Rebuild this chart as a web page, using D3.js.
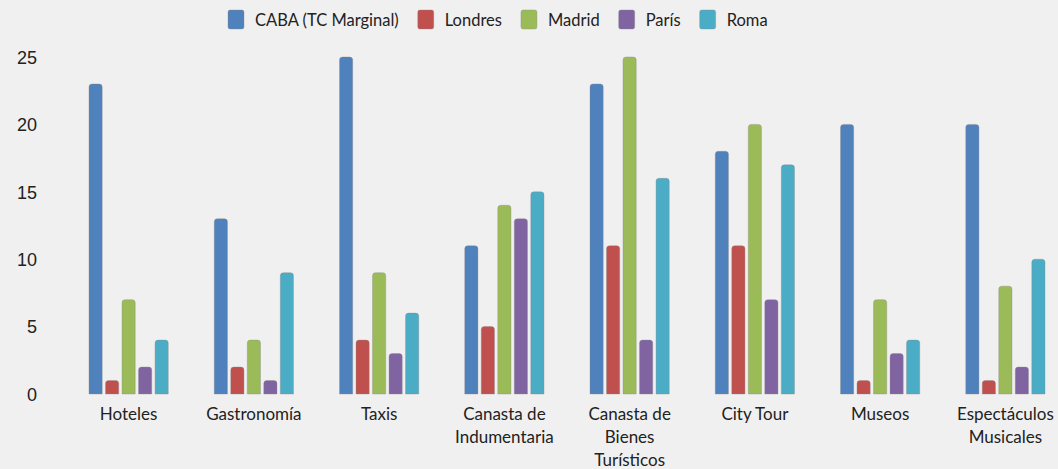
<!DOCTYPE html>
<html lang="es">
<head>
<meta charset="UTF-8">
<title>Comparación de precios</title>
<style>
  html, body { margin: 0; padding: 0; background: #f0f0f0; }
  svg { display: block; font-family: Lato, "Open Sans", Arial, sans-serif; }
  .tick text { fill: #222; font-size: 18px; }
</style>
</head>
<body>
<svg id="chart" width="1058" height="469"></svg>
<script src="https://d3js.org/d3.v7.min.js"></script>
<script>
// datos
const categories = [
  ["Hoteles"],
  ["Gastronomía"],
  ["Taxis"],
  ["Canasta de", "Indumentaria"],
  ["Canasta de", "Bienes", "Turísticos"],
  ["City Tour"],
  ["Museos"],
  ["Espectáculos", "Musicales"]
];
const seriesNames = ["CABA (TC Marginal)", "Londres", "Madrid", "París", "Roma"];
const colors = ["#4f81bd", "#c0504d", "#9bbb59", "#8064a2", "#4bacc6"];
const caba    = [23, 13, 25, 11, 23, 18, 20, 20];
const londres = [1, 2, 4, 5, 11, 11, 1, 1];
const madrid  = [7, 4, 9, 14, 25, 20, 7, 8];
const paris   = [2, 1, 3, 13, 4, 7, 3, 2];
const roma    = [4, 9, 6, 15, 16, 17, 4, 10];
const yTicks = [0, 5, 10, 15, 20, 25];

const allSeries = [caba, londres, madrid, paris, roma];

const svg = d3.select("#chart");
const margin = { left: 66, right: -10, top: 57, bottom: 75 };
const W = +svg.attr("width"), H = +svg.attr("height");

const keys = categories.map(c => c.join(" "));
const x = d3.scaleBand().domain(keys).range([margin.left, W - margin.right]).paddingInner(0).paddingOuter(0);
const xi = d3.scaleBand().domain(d3.range(seriesNames.length)).range([23, x.bandwidth() - 23]).paddingInner(0.2);
const y = d3.scaleLinear().domain([0, 25]).range([H - margin.bottom, margin.top]);

// eje y
const yAxis = svg.append("g")
  .attr("transform", `translate(${margin.left},0)`)
  .call(d3.axisLeft(y).tickValues(yTicks).tickSize(0).tickPadding(29));
yAxis.select(".domain").remove();
yAxis.selectAll("text").attr("dy", "0.35em");

// barras con esquinas superiores redondeadas
function barPath(x0, w, yTop, yBase) {
  const r = Math.min(3, w / 2, (yBase - yTop) / 2);
  return `M${x0},${yBase}V${yTop + r}Q${x0},${yTop} ${x0 + r},${yTop}H${x0 + w - r}Q${x0 + w},${yTop} ${x0 + w},${yTop + r}V${yBase}Z`;
}

const groups = svg.append("g").selectAll("g")
  .data(keys)
  .join("g")
  .attr("transform", d => `translate(${x(d)},0)`);

groups.selectAll("path")
  .data((k, ci) => allSeries.map((s, si) => ({ si, v: s[ci] })))
  .join("path")
  .attr("d", d => barPath(xi(d.si), xi.bandwidth(), y(d.v), y(0)))
  .attr("fill", d => colors[d.si])
  .attr("stroke", "#8a8a8a")
  .attr("stroke-opacity", 0.45)
  .attr("stroke-width", 0.8);

// etiquetas categorías
const labels = svg.append("g").selectAll("text")
  .data(categories)
  .join("text")
  .attr("x", (d, i) => x(keys[i]) + x.bandwidth() / 2)
  .attr("y", y(0) + 26)
  .attr("text-anchor", "middle")
  .attr("fill", "#222")
  .style("font-size", "17px");
labels.selectAll("tspan")
  .data(d => d)
  .join("tspan")
  .attr("x", function () { return d3.select(this.parentNode).attr("x"); })
  .attr("dy", (d, i) => i === 0 ? 0 : 23)
  .text(d => d);

// leyenda
const legend = svg.append("g").attr("transform", "translate(228,10)");
let lx = 0;
seriesNames.forEach((name, i) => {
  const item = legend.append("g").attr("transform", `translate(${lx},0)`);
  item.append("rect")
    .attr("width", 16).attr("height", 19).attr("rx", 2)
    .attr("fill", colors[i])
    .attr("stroke", "#8a8a8a").attr("stroke-opacity", 0.45).attr("stroke-width", 0.8);
  const t = item.append("text")
    .attr("x", 27).attr("y", 16)
    .attr("fill", "#222")
    .style("font-size", "16.5px")
    .text(name);
  lx += 27 + t.node().getComputedTextLength() + 19;
});
</script>
</body>
</html>
